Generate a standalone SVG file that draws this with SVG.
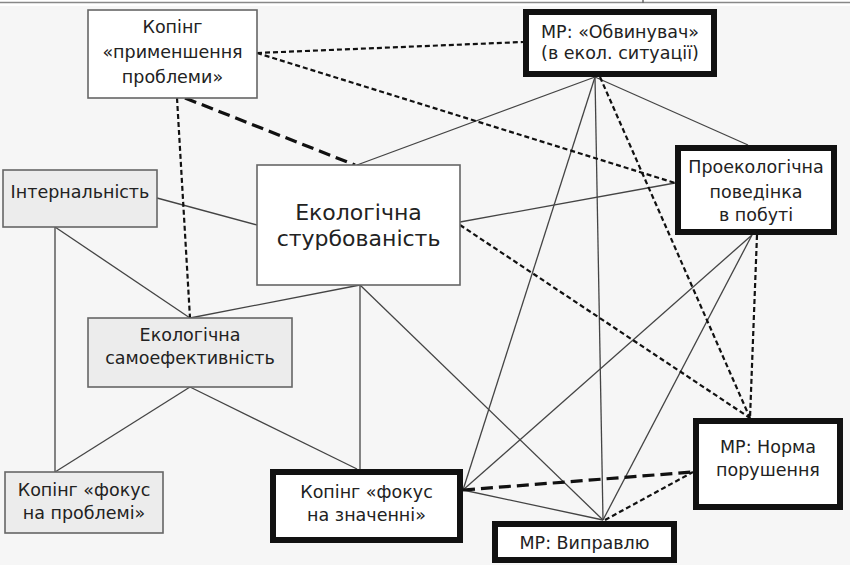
<svg xmlns="http://www.w3.org/2000/svg" width="850" height="565" viewBox="0 0 850 565">
<style>
  .t{font-family:"DejaVu Sans","Noto Sans",sans-serif;font-size:17.5px;fill:#222;text-anchor:middle}
  .big{font-size:22px}
  .thin{fill:#fff;stroke:#666;stroke-width:1.6}
  .grey{fill:#ececec;stroke:#666;stroke-width:1.6}
  .thick{fill:#fff;stroke:#111;stroke-width:6}
  .s{stroke:#444;stroke-width:1.3;fill:none}
  .d{stroke:#111;stroke-width:2.2;stroke-dasharray:5 3;fill:none}
  .dt{stroke:#111;stroke-width:3.2;stroke-dasharray:12 6;fill:none}
</style>
<rect x="0" y="0" width="850" height="565" fill="#fff"/>
<rect x="0" y="6" width="850" height="559" fill="#f6f6f6"/>
<line x1="0" y1="2.5" x2="850" y2="2.5" stroke="#888" stroke-width="1.5"/>
<line x1="643" y1="0" x2="643" y2="3" stroke="#666" stroke-width="1.5"/>
<g id="connectors">
  <line class="s" x1="157" y1="198" x2="257" y2="225"/>
  <line class="s" x1="55" y1="227" x2="190" y2="318"/>
  <line class="s" x1="55" y1="227" x2="55" y2="472"/>
  <line class="s" x1="190" y1="387" x2="55" y2="472"/>
  <line class="s" x1="190" y1="387" x2="357" y2="469"/>
  <line class="s" x1="360" y1="285" x2="190" y2="318"/>
  <line class="s" x1="360" y1="285" x2="360" y2="469"/>
  <line class="s" x1="360" y1="285" x2="603" y2="520"/>
  <line class="s" x1="357" y1="165" x2="595" y2="77"/>
  <line class="s" x1="460" y1="222" x2="675" y2="183"/>
  <line class="s" x1="595" y1="77" x2="748" y2="145"/>
  <line class="s" x1="595" y1="77" x2="463" y2="490"/>
  <line class="s" x1="595" y1="77" x2="603" y2="520"/>
  <line class="s" x1="752" y1="235" x2="463" y2="490"/>
  <line class="s" x1="752" y1="235" x2="603" y2="520"/>
  <line class="s" x1="463" y1="490" x2="603" y2="520"/>
  <line class="d" x1="257" y1="53" x2="523" y2="42"/>
  <line class="d" x1="257" y1="53" x2="675" y2="183"/>
  <line class="d" x1="177" y1="98" x2="190" y2="318"/>
  <line class="d" x1="600" y1="77" x2="750" y2="418"/>
  <line class="d" x1="460" y1="225" x2="750" y2="418"/>
  <line class="d" x1="757" y1="235" x2="750" y2="418"/>
  <line class="d" x1="605" y1="520" x2="693" y2="472"/>
  <line class="dt" x1="185" y1="98" x2="355" y2="165"/>
  <line class="dt" x1="463" y1="490" x2="693" y2="472"/>
</g>
<g id="n1">
  <rect class="thin" x="88" y="10" width="169" height="88"/>
  <text class="t" x="172.5" y="33">Копінг</text>
  <text class="t" x="172.5" y="58">«применшення</text>
  <text class="t" x="172.5" y="83">проблеми»</text>
</g>
<g id="n2">
  <rect class="thick" x="526" y="12" width="188" height="62"/>
  <text class="t" x="620" y="38">МР: «Обвинувач»</text>
  <text class="t" x="620" y="59">(в екол. ситуації)</text>
</g>
<g id="n3">
  <rect class="thick" x="678" y="148" width="156" height="84"/>
  <text class="t" x="756" y="173">Проекологічна</text>
  <text class="t" x="756" y="198">поведінка</text>
  <text class="t" x="756" y="221">в побуті</text>
</g>
<g id="n4">
  <rect class="grey" x="3" y="170" width="154" height="57"/>
  <text class="t" x="80" y="198">Інтернальність</text>
</g>
<g id="n5">
  <rect class="thin" x="257" y="165" width="203" height="120"/>
  <text class="t big" x="358.5" y="220">Екологічна</text>
  <text class="t big" x="358.5" y="246">стурбованість</text>
</g>
<g id="n6">
  <rect class="grey" x="88" y="318" width="204" height="69"/>
  <text class="t" x="190" y="341">Екологічна</text>
  <text class="t" x="190" y="364">самоефективність</text>
</g>
<g id="n7">
  <rect class="grey" x="5" y="472" width="158" height="61"/>
  <text class="t" x="84" y="496">Копінг «фокус</text>
  <text class="t" x="84" y="519">на проблемі»</text>
</g>
<g id="n8">
  <rect class="thick" x="273" y="472" width="187" height="68"/>
  <text class="t" x="366.5" y="498">Копінг «фокус</text>
  <text class="t" x="366.5" y="521">на значенні»</text>
</g>
<g id="n9">
  <rect class="thick" x="495" y="524" width="179" height="36"/>
  <text class="t" x="584.5" y="549">МР: Виправлю</text>
</g>
<g id="n10">
  <rect class="thick" x="696" y="421" width="144" height="86"/>
  <text class="t" x="768" y="453">МР: Норма</text>
  <text class="t" x="768" y="476">порушення</text>
</g>
</svg>
